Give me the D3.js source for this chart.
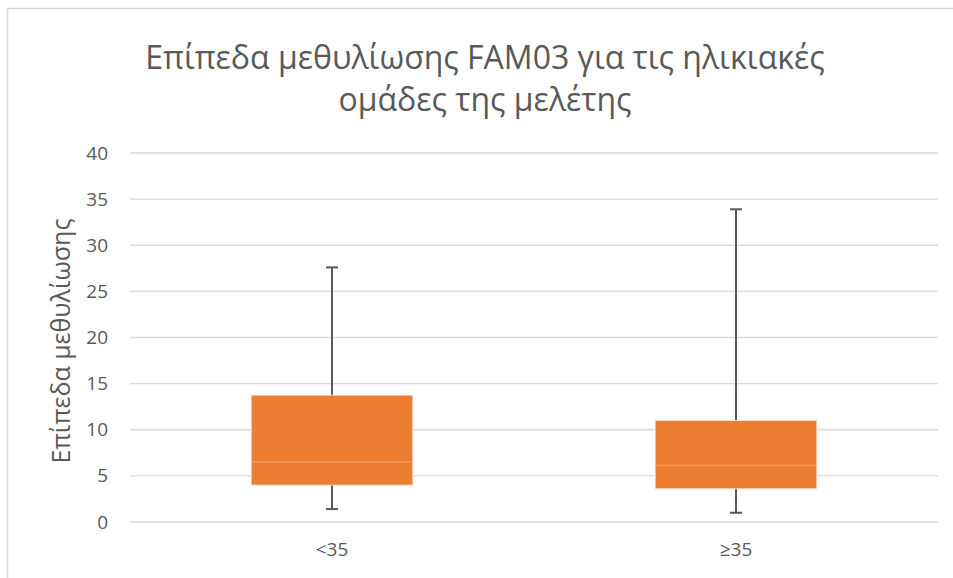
<!DOCTYPE html>
<html>
<head>
<meta charset="utf-8">
<script src="https://cdn.jsdelivr.net/npm/d3@7"></script>
<style>
  html, body { margin: 0; padding: 0; background: #fff; }
  svg { display: block; }
  text { font-family: "Open Sans", "Noto Sans", sans-serif; fill: #595959; }
</style>
</head>
<body>
<svg id="chart" width="953" height="578"></svg>
<script>
// Age groups and their box-plot summaries (methylation levels)
const categories = ["<35", "≥35"];
const whiskerLow  = [1.4, 1.0];
const q1          = [4.0, 3.6];
const median      = [6.5, 6.15];
const q3          = [13.75, 11.0];
const whiskerHigh = [27.6, 33.9];
const yTicks = [0, 5, 10, 15, 20, 25, 30, 35, 40];

const titleLines = ["Επίπεδα μεθυλίωσης FAM03 για τις ηλικιακές", "ομάδες της μελέτης"];
const yTitle = "Επίπεδα μεθυλίωσης";

const svg = d3.select("#chart");
const W = 953, H = 578;
const plot = { left: 130, right: 938, top: 153, bottom: 522 };

// chart area frame
svg.append("path")
  .attr("d", `M7.5,${H} V8.5 H${W}`)
  .attr("fill", "none").attr("stroke", "#d9d9d9").attr("stroke-width", 1.5);

const x = d3.scaleBand().domain(categories).range([plot.left, plot.right]).paddingInner(0.6).paddingOuter(0.3);
const y = d3.scaleLinear().domain([0, 40]).range([plot.bottom, plot.top]);

// gridlines
svg.append("g").selectAll("line").data(yTicks).join("line")
  .attr("x1", plot.left).attr("x2", plot.right)
  .attr("y1", d => y(d)).attr("y2", d => y(d))
  .attr("stroke", "#d9d9d9").attr("stroke-width", 1.3);

// y axis labels
const yAxis = d3.axisLeft(y).tickValues(yTicks).tickSize(0).tickPadding(0);
const gy = svg.append("g").attr("transform", `translate(${plot.left - 22},0)`).call(yAxis);
gy.select(".domain").remove();
gy.selectAll("text").attr("font-size", 19).attr("fill", "#595959")
  .style("font-family", '"Open Sans", sans-serif');

// x axis labels
const xAxis = d3.axisBottom(x).tickSize(0).tickPadding(0);
const gx = svg.append("g").attr("transform", `translate(0,${plot.bottom + 20})`).call(xAxis);
gx.select(".domain").remove();
gx.selectAll("text").attr("font-size", 19).attr("fill", "#595959")
  .style("font-family", '"Open Sans", sans-serif');

// box plots
const boxes = svg.append("g").selectAll("g").data(categories).join("g");
const cx = i => x(categories[i]) + x.bandwidth() / 2;

boxes.each(function(c, i) {
  const g = d3.select(this);
  const mid = cx(i);
  // whiskers
  g.append("line").attr("x1", mid).attr("x2", mid)
    .attr("y1", y(q3[i])).attr("y2", y(whiskerHigh[i]))
    .attr("stroke", "#595959").attr("stroke-width", 2);
  g.append("line").attr("x1", mid).attr("x2", mid)
    .attr("y1", y(q1[i])).attr("y2", y(whiskerLow[i]))
    .attr("stroke", "#595959").attr("stroke-width", 2);
  // caps
  [whiskerHigh[i], whiskerLow[i]].forEach(v => {
    g.append("line").attr("x1", mid - 6).attr("x2", mid + 6)
      .attr("y1", y(v)).attr("y2", y(v))
      .attr("stroke", "#595959").attr("stroke-width", 2);
  });
  // box
  g.append("rect")
    .attr("x", x(c)).attr("width", x.bandwidth())
    .attr("y", y(q3[i])).attr("height", y(q1[i]) - y(q3[i]))
    .attr("fill", "#ed7d31").attr("stroke", "#fbe3d3").attr("stroke-width", 0.8);
  // median
  g.append("line").attr("x1", x(c)).attr("x2", x(c) + x.bandwidth())
    .attr("y1", y(median[i])).attr("y2", y(median[i]))
    .attr("stroke", "#f4a46e").attr("stroke-width", 1);
});

// title
svg.append("g").selectAll("text").data(titleLines).join("text")
  .attr("x", 485).attr("y", (d, i) => 69 + i * 42)
  .attr("text-anchor", "middle").attr("font-size", 32).attr("fill", "#595959")
  .text(d => d);

// y axis title
svg.append("text")
  .attr("transform", `translate(70,341) rotate(-90)`)
  .attr("text-anchor", "middle").attr("font-size", 25).attr("fill", "#595959")
  .text(yTitle);
</script>
</body>
</html>
